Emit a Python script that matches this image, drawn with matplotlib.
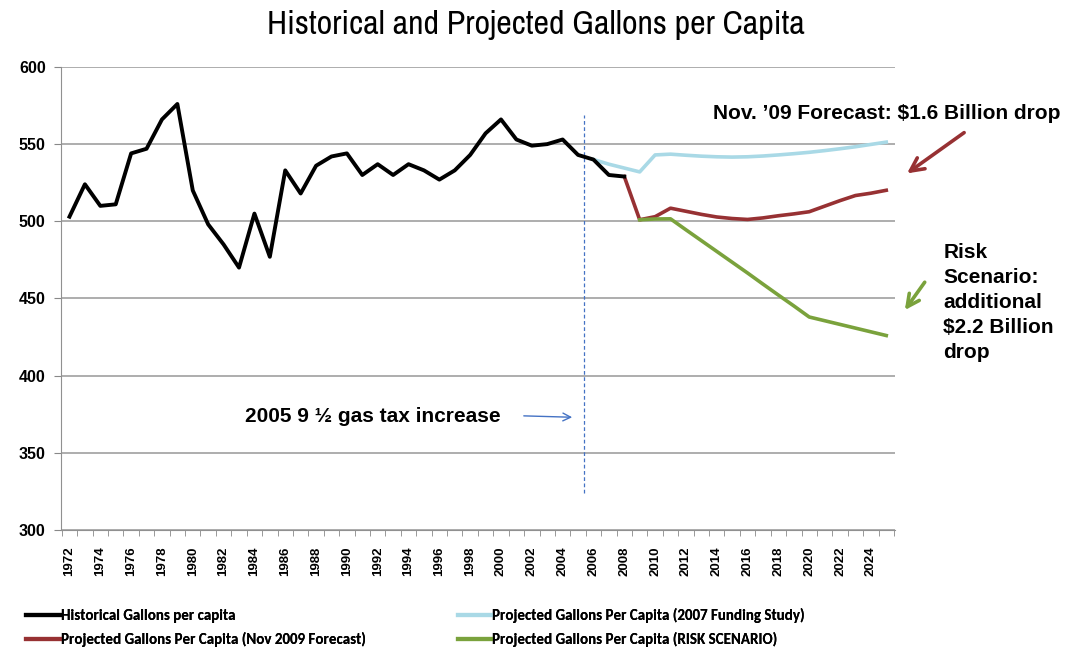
import matplotlib
matplotlib.use("Agg")
import matplotlib.pyplot as plt
from matplotlib.lines import Line2D
from matplotlib import font_manager

plt.rcParams['font.family'] = ['Liberation Sans', 'DejaVu Sans']

# Historical gallons per capita, 1972-2008
hist_years = list(range(1972, 2009))
hist_vals = [503, 524, 510, 511, 544, 547, 566, 576, 520, 498, 485, 470,
             505, 477, 533, 518, 536, 542, 544, 530, 537, 530, 537, 533,
             527, 533, 543, 557, 566, 553, 549, 550, 553, 543, 540, 530, 529]

# Projection 2007 funding study
study_years = list(range(2006, 2026))
study_vals = [540, 537, 534.5, 532, 543, 543.5, 542.8, 542.2, 541.8, 541.6,
              541.8, 542.3, 543, 543.8, 544.7, 545.8, 547, 548.3, 549.8, 551.3]

# Nov 2009 forecast
nov_years = list(range(2008, 2026))
nov_vals = [529, 501, 503, 508.5, 506.5, 504.5, 502.8, 501.8, 501.2, 502.2,
            503.6, 504.8, 506.2, 509.8, 513.4, 516.7, 518.2, 520.1]

# Risk scenario
risk_years = list(range(2009, 2026))
risk_vals = [501, 501.5, 501.6, 494.5, 487.5, 480.5, 473.5, 466.5, 459.3,
             452.2, 445.2, 438, 435.6, 433.2, 430.8, 428.4, 426]

tick_years = list(range(1972, 2025, 2))
tax_year = 2005.4


def pick(cands):
    names = {f.name for f in font_manager.fontManager.ttflist}
    for c in cands:
        if c in names:
            return c
    return 'Liberation Sans'


narrow = pick(['Liberation Sans Narrow', 'Arimo Narrow', 'Archivo Narrow',
               'PT Sans Narrow', 'Roboto Condensed', 'Asap Condensed'])
calib = pick(['Carlito', 'Calibri', 'Open Sans'])

fig = plt.figure(figsize=(10.78, 6.5), dpi=100, facecolor='white')
ax = fig.add_axes([0.0566, 0.1846, 0.7734, 0.7124])

ax.plot(hist_years, hist_vals, color='black', lw=2.8, zorder=5)
ax.plot(study_years, study_vals, color='#A9D9E6', lw=2.6, zorder=4)
ax.plot(nov_years, nov_vals, color='#973133', lw=2.6, zorder=4)
ax.plot(risk_years, risk_vals, color='#7AA23C', lw=2.6, zorder=4)

# 2005 gas tax line
ax.plot([tax_year, tax_year], [324, 569], color='#4472C4', lw=0.9,
        ls=(0, (3, 2)), zorder=3)

ax.set_ylim(300, 600)
ax.set_xlim(1971.45, 2025.55)
ax.set_yticks(range(300, 601, 50))
ax.set_xticks(tick_years)
ax.set_xticks([y + 0.5 for y in range(1971, 2026)], minor=True)
ax.set_xticklabels([str(y) for y in tick_years], rotation=90,
                   fontsize=9.5, fontweight='bold')
for lab in ax.get_yticklabels():
    lab.set_fontweight('bold')
    lab.set_fontsize(11.5)
ax.tick_params(axis='x', which='major', length=0, pad=12)
ax.tick_params(axis='x', which='minor', length=4, color='#888888')
ax.tick_params(axis='y', length=5, color='#888888', pad=6)
ax.grid(axis='y', color='#A0A0A0', lw=1.2)
ax.set_axisbelow(True)
for s in ['top', 'right']:
    ax.spines[s].set_visible(False)
ax.spines['left'].set_color('#909090')
ax.spines['bottom'].set_color('#909090')

fig.text(0.497, 0.962, 'Historical and Projected Gallons per Capita',
         ha='center', va='center', fontsize=24.5, family=narrow)

# annotations
fig.text(0.661, 0.826, 'Nov. \u201909 Forecast: $1.6 Billion drop',
         fontsize=15, fontweight='bold', va='center')
ax.annotate('', xy=(2026.2, 530), xytext=(2030.2, 558.5),
            xycoords='data', annotation_clip=False,
            arrowprops=dict(arrowstyle='->', color='#973133', lw=2.6,
                            mutation_scale=24))
fig.text(0.875, 0.535, 'Risk\nScenario:\nadditional\n$2.2 Billion\ndrop',
         fontsize=15, fontweight='bold', va='center', linespacing=1.4)
ax.annotate('', xy=(2026.1, 441), xytext=(2027.6, 462),
            xycoords='data', annotation_clip=False,
            arrowprops=dict(arrowstyle='->', color='#7AA23C', lw=2.6,
                            mutation_scale=22))
ax.text(1983.4, 373.4, '2005 9 \u00bd gas tax increase', fontsize=15,
        fontweight='bold', va='center')
ax.annotate('', xy=(2004.8, 373), xytext=(2001.3, 374),
            arrowprops=dict(arrowstyle='->', color='#4472C4', lw=1.0,
                            mutation_scale=14))

labels = ['Historical Gallons per capita',
          'Projected Gallons Per Capita (Nov 2009 Forecast)',
          'Projected Gallons Per Capita (2007 Funding Study)',
          'Projected Gallons Per Capita (RISK SCENARIO)']
colors = ['black', '#973133', '#A9D9E6', '#7AA23C']
handles = [Line2D([], [], color=c, lw=3) for c in colors]
leg_prop = {'family': calib, 'weight': 'bold', 'size': 10.8}
for i, x0 in enumerate([0.012, 0.412]):
    lg = fig.legend(handles[2 * i:2 * i + 2], labels[2 * i:2 * i + 2],
                    loc='lower left', bbox_to_anchor=(x0, -0.016),
                    frameon=False, handlelength=2.3, handletextpad=0.0,
                    labelspacing=0.6, prop=leg_prop)
    fig.add_artist(lg)

fig.savefig('out.png', dpi=100)
